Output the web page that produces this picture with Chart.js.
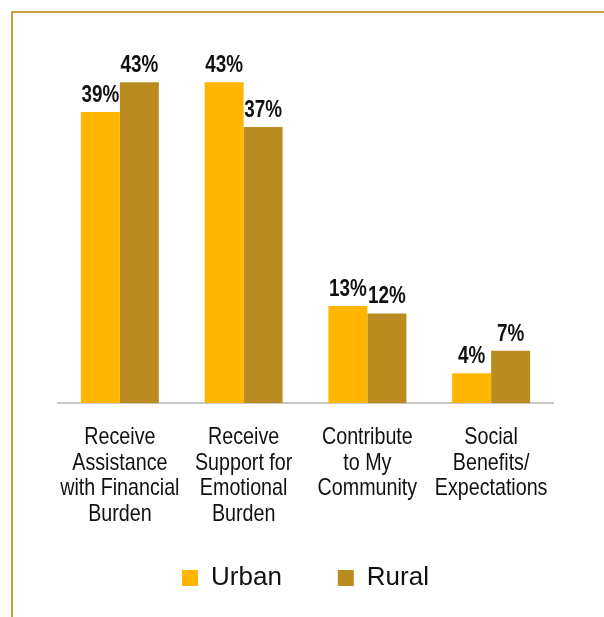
<!DOCTYPE html>
<html>
<head>
<meta charset="utf-8">
<script src="https://cdn.jsdelivr.net/npm/chart.js@4.4.1/dist/chart.umd.min.js"></script>
<style>
  body { margin: 0; background: #ffffff; }
  #frame {
    position: absolute;
    left: 11px;
    top: 11px;
    width: 593px;
    height: 606px;
    border-top: 2px solid #c9a03c;
    border-left: 2px solid #c9a03c;
  }
  #wrap { position: absolute; left: 0; top: 0; width: 604px; height: 617px; }
</style>
</head>
<body>
<div id="frame"></div>
<div id="wrap"><canvas id="bars" width="604" height="617"></canvas></div>
<script>
const categories = [
  ["Receive", "Assistance", "with Financial", "Burden"],
  ["Receive", "Support for", "Emotional", "Burden"],
  ["Contribute", "to My", "Community"],
  ["Social", "Benefits/", "Expectations"],
];
const urban = [39, 43, 13, 4];
const rural = [43, 37, 12, 7];

const family = "'Liberation Sans', Arial, sans-serif";
const squeeze = 0.82; // no narrow face installed, so condense by hand

function narrowText(ctx, text, x, y) {
  ctx.save();
  ctx.translate(x, y);
  ctx.scale(squeeze, 1);
  ctx.fillText(text, 0, 0);
  ctx.restore();
}

// category names under the axis and percent labels over the bars
const narrowLabels = {
  id: "narrowLabels",
  afterDatasetsDraw(chart) {
    const ctx = chart.ctx;
    const xs = chart.scales.x;
    ctx.save();
    ctx.fillStyle = "#111111";
    ctx.textAlign = "center";
    ctx.textBaseline = "alphabetic";

    ctx.font = "24px " + family;
    chart.data.labels.forEach((lines, i) => {
      const x = xs.getPixelForValue(i);
      lines.forEach((line, k) => {
        narrowText(ctx, line, x, xs.top + 41 + k * 25.7);
      });
    });

    ctx.font = "bold 23px " + family;
    chart.data.datasets.forEach((ds, i) => {
      chart.getDatasetMeta(i).data.forEach((bar, j) => {
        narrowText(ctx, ds.data[j] + "%", bar.x, bar.y - 10);
      });
    });
    ctx.restore();
  },
};

const chart = new Chart(document.getElementById("bars").getContext("2d"), {
  type: "bar",
  data: {
    labels: categories,
    datasets: [
      {
        label: "Urban",
        data: urban,
        backgroundColor: "#ffb600",
        categoryPercentage: 0.63,
        barPercentage: 1,
      },
      {
        label: "Rural",
        data: rural,
        backgroundColor: "#b98b20",
        categoryPercentage: 0.63,
        barPercentage: 1,
      },
    ],
  },
  options: {
    responsive: false,
    animation: false,
    layout: {
      padding: { top: 30, left: 58, right: 51, bottom: 16 },
    },
    plugins: {
      legend: {
        position: "bottom",
        labels: {
          boxWidth: 16,
          boxHeight: 16,
          padding: 56,
          color: "#111111",
          font: { size: 26, family: family },
        },
      },
      tooltip: { enabled: false },
    },
    scales: {
      x: {
        grid: { display: false, drawTicks: false },
        border: { display: true, color: "#c8c8c8", width: 2 },
        ticks: { display: false },
        afterFit(axis) {
          axis.height = 106;
        },
      },
      y: {
        display: false,
        min: 0,
        max: 50,
      },
    },
  },
  plugins: [narrowLabels],
});
</script>
</body>
</html>
